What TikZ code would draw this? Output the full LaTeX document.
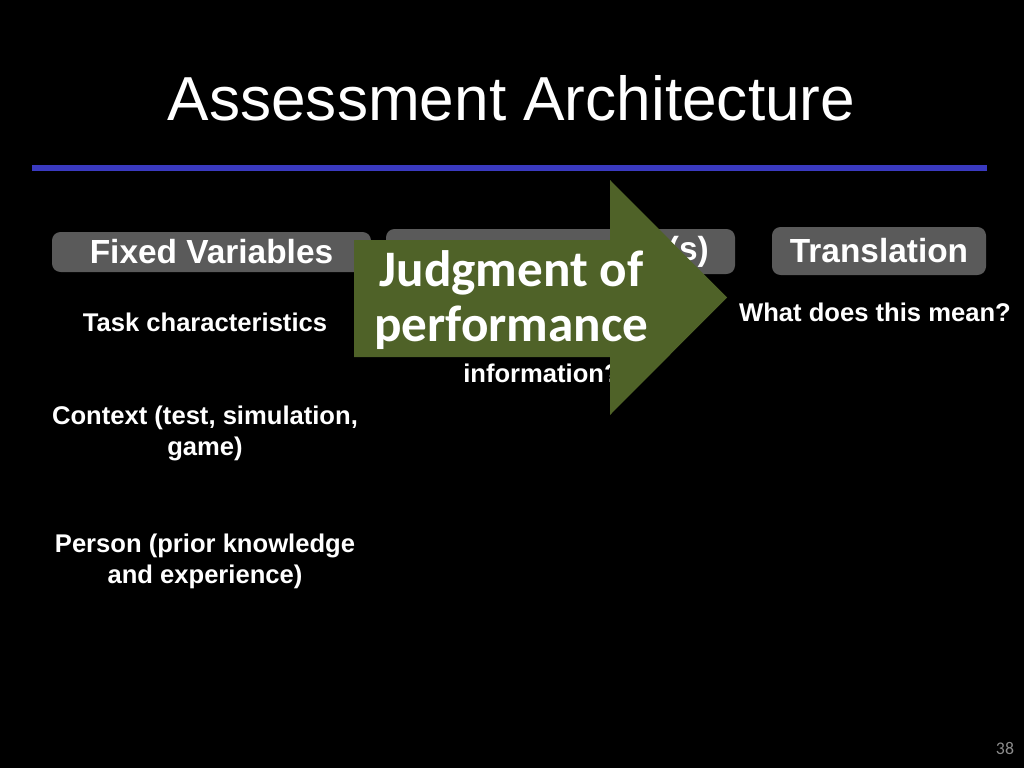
\documentclass[tikz,border=0pt]{standalone}
\usepackage{fontspec}
\setmainfont{Liberation Sans}
\newfontfamily\calib{Carlito}
\definecolor{boxgray}{HTML}{5A5A5A}
\definecolor{arrowgreen}{HTML}{4F6228}
\definecolor{ruleblue}{HTML}{3A3AC0}
\definecolor{pagegray}{HTML}{8C8C8C}
\tikzset{
  hdrbox/.style={fill=boxgray, rounded corners=6bp, inner sep=0pt, text=white,
    font=\fontsize{23.5bp}{27bp}\selectfont\bfseries},
  bodytext/.style={text=white, align=center, inner sep=0pt,
    font=\fontsize{18bp}{21.8bp}\selectfont\bfseries},
}
\begin{document}
\begin{tikzpicture}[x=0.703125bp, y=-0.703125bp]
\fill[black] (0,0) rectangle (1024,768);
\useasboundingbox (0,0) rectangle (1024,768);
% title
\node[text=white, anchor=base, inner sep=0pt, font=\fontsize{43.7bp}{50bp}\selectfont] (title) at (511.5,120) {Assessment Architecture};
\coordinate (ruleL) at (32,168);
\coordinate (ruleR) at (987,168);
\draw[ruleblue, line width=3.6bp] (ruleL) -- (ruleR);
% header boxes
\node[hdrbox, minimum width=319*0.703125bp, minimum height=40*0.703125bp] (fixed) at (211.5,252) {Fixed Variables};
\node[hdrbox, minimum width=349*0.703125bp, minimum height=45*0.703125bp] (mid) at (560.5,251.5) {};
\node[hdrbox, anchor=east] (mids) at (709,251.5) {(s)};
\node[hdrbox, minimum width=214*0.703125bp, minimum height=48*0.703125bp] (trans) at (879,251) {Translation};
% body texts
\node[bodytext] (task) at (205,322) {Task characteristics};
\node[bodytext] (context) at (205,433) {Context (test, simulation,\\game)};
\node[bodytext] (person) at (205,561) {Person (prior knowledge\\and experience)};
\node[bodytext, anchor=west] (info) at (463,373) {information?};
\node[bodytext] (mean) at (875,312) {What does this mean?};
% big arrow
\fill[arrowgreen] (354,240) -- (610,240) -- (610,180) -- (727,297.5) -- (610,415) -- (610,357) -- (354,357) -- cycle;
\node[text=white, align=center, inner sep=0pt, font=\calib\fontsize{36bp}{38.7bp}\selectfont\bfseries] (judg) at (511.5,300) {Judgment of\\performance};
% page number
\node[text=pagegray, inner sep=0pt, font=\calib\fontsize{12.5bp}{14bp}\selectfont] (page) at (1005,748) {38};
\end{tikzpicture}
\end{document}
